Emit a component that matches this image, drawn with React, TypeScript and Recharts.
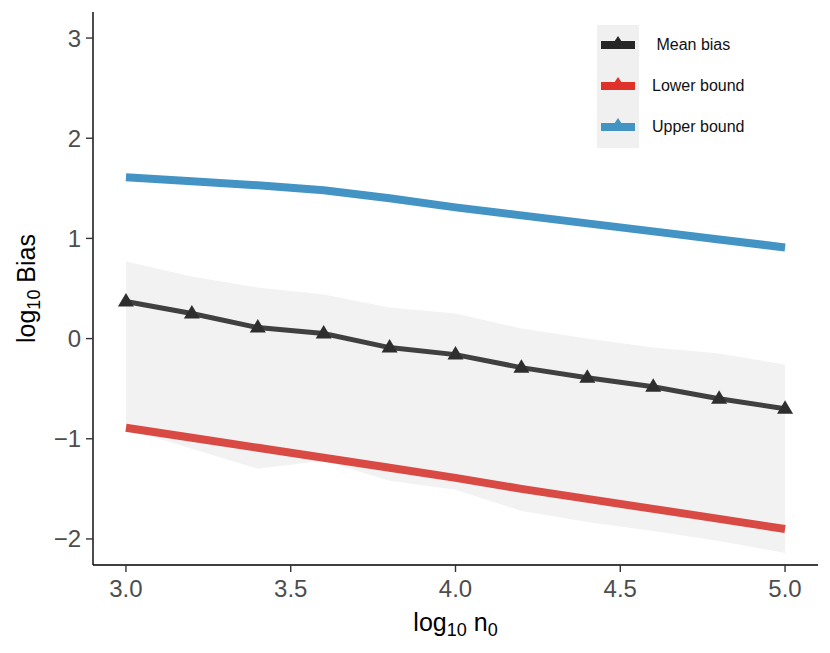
import React from "react";
import { ComposedChart, Line, Area, XAxis, YAxis } from "recharts";

const xs = [3.0, 3.2, 3.4, 3.6, 3.8, 4.0, 4.2, 4.4, 4.6, 4.8, 5.0];
const meanBias = [0.37, 0.25, 0.11, 0.05, -0.09, -0.16, -0.29, -0.39, -0.48, -0.6, -0.7];
const ribbonLow = [-0.9, -1.1, -1.3, -1.22, -1.42, -1.51, -1.72, -1.83, -1.92, -2.02, -2.14];
const ribbonHigh = [0.77, 0.62, 0.51, 0.44, 0.31, 0.25, 0.1, 0.0, -0.09, -0.15, -0.26];
const lowerBound = [-0.89, -0.99, -1.09, -1.19, -1.29, -1.39, -1.5, -1.6, -1.7, -1.8, -1.9];
const upperBound = [1.61, 1.57, 1.53, 1.48, 1.4, 1.31, 1.23, 1.15, 1.07, 0.99, 0.91];
const xTicks = [3.0, 3.5, 4.0, 4.5, 5.0];
const yTicks = [-2, -1, 0, 1, 2, 3];

const legendItems = [
  { label: " Mean bias", color: "#262626" },
  { label: "Lower bound", color: "#E0302A" },
  { label: "Upper bound", color: "#4393C3" },
];

const data = xs.map((x, i) => ({
  x,
  mean: meanBias[i],
  band: [ribbonLow[i], ribbonHigh[i]],
  lower: lowerBound[i],
  upper: upperBound[i],
}));

const FONT = "'Liberation Sans', Arial, Helvetica, sans-serif";

const Triangle = (props: any) => {
  const { cx, cy } = props;
  if (cx == null || cy == null) return null;
  return (
    <polygon
      points={`${cx},${cy - 8.5} ${cx - 8},${cy + 5} ${cx + 8},${cy + 5}`}
      fill="#2e2e2e"
    />
  );
};

const fmtX = (v: number) => v.toFixed(1);
const fmtY = (v: number) => (v < 0 ? "\u2212" + Math.abs(v) : String(v));

const LegendBox = () => (
  <div
    style={{
      position: "absolute",
      left: 597,
      top: 25,
      width: 180,
      height: 123,
      fontFamily: FONT,
    }}
  >
    <div
      style={{
        position: "absolute",
        left: 0,
        top: 0,
        width: 42,
        height: 123,
        background: "#F0F0F0",
      }}
    />
    {legendItems.map((it, i) => {
      const cy = 20 + i * 41;
      return (
        <React.Fragment key={it.label}>
          <svg
            style={{ position: "absolute", left: 0, top: cy - 12 }}
            width={42}
            height={24}
          >
            <rect x={4} y={8} width={34} height={8} fill={it.color} />
            <polygon points="21,3 17,9 25,9" fill={it.color} />
          </svg>
          <div
            style={{
              position: "absolute",
              left: 55,
              top: cy - 10,
              fontSize: 16,
              lineHeight: "20px",
              color: "#111",
              whiteSpace: "pre",
            }}
          >
            {it.label}
          </div>
        </React.Fragment>
      );
    })}
  </div>
);

export default function App() {
  return (
    <div style={{ position: "absolute", left: 0, top: 0, width: 830, height: 653, background: "#fff" }}>
      <ComposedChart
        width={830}
        height={653}
        data={data}
        margin={{ top: 12, right: 12, left: 0, bottom: 0 }}
      >
        <XAxis
          dataKey="x"
          type="number"
          domain={[2.9, 5.1]}
          ticks={xTicks}
          tickFormatter={fmtX}
          height={88}
          tickSize={7}
          tickMargin={8}
          stroke="#000"
          strokeWidth={1.4}
          tickLine={{ stroke: "#333", strokeWidth: 1.4 }}
          tick={{ fill: "#4D4D4D", fontSize: 24, fontFamily: FONT }}
          label={(props: any) => {
            const vb = props.viewBox;
            const cx = vb.x + vb.width / 2;
            return (
              <text
                x={cx}
                y={631}
                textAnchor="middle"
                fontSize={25}
                fontFamily={FONT}
                fill="#000"
              >
                log
                <tspan fontSize={18} dy={5}>10</tspan>
                <tspan dy={-5}> n</tspan>
                <tspan fontSize={18} dy={5}>0</tspan>
              </text>
            );
          }}
        />
        <YAxis
          type="number"
          domain={[-2.26, 3.26]}
          ticks={yTicks}
          tickFormatter={fmtY}
          width={93}
          tickSize={7}
          tickMargin={5}
          stroke="#000"
          strokeWidth={1.4}
          tickLine={{ stroke: "#333", strokeWidth: 1.4 }}
          tick={{ fill: "#4D4D4D", fontSize: 24, fontFamily: FONT }}
          allowDataOverflow
          label={(props: any) => {
            const vb = props.viewBox;
            const cy = vb.y + vb.height / 2;
            return (
              <text
                x={0}
                y={0}
                transform={`translate(35, ${cy}) rotate(-90)`}
                textAnchor="middle"
                fontSize={25}
                fontFamily={FONT}
                fill="#000"
              >
                log
                <tspan fontSize={18} dy={5}>10</tspan>
                <tspan dy={-5}> Bias</tspan>
              </text>
            );
          }}
        />
        <Area
          dataKey="band"
          type="linear"
          stroke="none"
          fill="#F2F2F2"
          fillOpacity={1}
          isAnimationActive={false}
          legendType="none"
          activeDot={false}
        />
        <Line
          dataKey="mean"
          type="linear"
          stroke="#404040"
          strokeWidth={5}
          dot={<Triangle />}
          activeDot={false}
          isAnimationActive={false}
        />
        <Line
          dataKey="lower"
          type="linear"
          stroke="#D94A45"
          strokeWidth={8}
          dot={false}
          activeDot={false}
          isAnimationActive={false}
        />
        <Line
          dataKey="upper"
          type="linear"
          stroke="#4394C4"
          strokeWidth={8}
          dot={false}
          activeDot={false}
          isAnimationActive={false}
        />
      </ComposedChart>
      <LegendBox />
    </div>
  );
}
